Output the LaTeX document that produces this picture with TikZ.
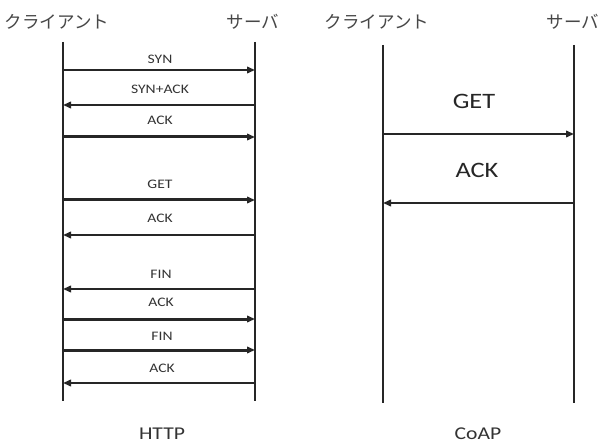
\documentclass[tikz,border=0pt]{standalone}
\usepackage{fontspec}
\setmainfont{Carlito}[FakeStretch=1.2]
\newfontfamily\jpfont{Noto Sans CJK JP}
\usetikzlibrary{arrows.meta}
\begin{document}
\begin{tikzpicture}[x=1pt,y=-1pt,
  life/.style={line width=1.9pt, draw=black!85},
  msg/.style={line width=2pt, draw=black!85, -{Triangle[length=8pt,width=6.5pt]}},
  msgb/.style={msg, line width=3pt},
  lab/.style={font=\fontsize{13}{13}\selectfont, text=black!80, inner sep=0pt},
  big/.style={font=\fontsize{22}{22}\selectfont, text=black!85, inner sep=0pt},
  head/.style={font=\jpfont\fontsize{17.5}{17.5}\selectfont, text=black!72, inner sep=0pt},
  ttl/.style={font=\fontsize{18}{18}\selectfont, text=black!80, inner sep=0pt}]
\useasboundingbox[fill=white] (0,0) rectangle (604,446);

% ---------- HTTP ----------
\node[head] (hcH) at (57,22) {クライアント};
\node[head] (hsH) at (253,22) {サーバ};
\coordinate (hcT) at (63,42); \coordinate (hcB) at (63,401);
\coordinate (hsT) at (255,42); \coordinate (hsB) at (255,401);
\draw[life] (hcT) -- (hcB);
\draw[life] (hsT) -- (hsB);

\foreach \i/\y in {1/70,2/105,3/137,4/200,5/235,6/289,7/319,8/350,9/383}{
  \coordinate (hc\i) at (63,\y);
  \coordinate (hs\i) at (255,\y);
}
\draw[msg]  (hc1) -- (hs1);
\draw[msg]  (hs2) -- (hc2);
\draw[msgb] (hc3) -- (hs3);
\draw[msgb] (hc4) -- (hs4);
\draw[msg]  (hs5) -- (hc5);
\draw[msg]  (hs6) -- (hc6);
\draw[msgb] (hc7) -- (hs7);
\draw[msgb] (hc8) -- (hs8);
\draw[msg]  (hs9) -- (hc9);

\node[lab] (l1) at (160,59)  {SYN};
\node[lab] (l2) at (160,89)  {SYN+ACK};
\node[lab] (l3) at (160,120) {ACK};
\node[lab] (l4) at (160,184) {GET};
\node[lab] (l5) at (160,218) {ACK};
\node[lab] (l6) at (161,274) {FIN};
\node[lab] (l7) at (161,302) {ACK};
\node[lab] (l8) at (162,336) {FIN};
\node[lab] (l9) at (162,368) {ACK};

\node[ttl] (http) at (162,434) {HTTP};

% ---------- CoAP ----------
\node[head] (ccH) at (377,22) {クライアント};
\node[head] (csH) at (573,22) {サーバ};
\coordinate (ccT) at (383,45); \coordinate (ccB) at (383,403);
\coordinate (csT) at (574,45); \coordinate (csB) at (574,403);
\draw[life] (ccT) -- (ccB);
\draw[life] (csT) -- (csB);

\coordinate (cc1) at (383,134); \coordinate (cs1) at (574,134);
\coordinate (cc2) at (383,203); \coordinate (cs2) at (574,203);
\draw[msg] (cc1) -- (cs1);
\draw[msg] (cs2) -- (cc2);
\node[big] (g) at (474,101) {GET};
\node[big] (a) at (477,170) {ACK};

\node[ttl] (coap) at (478,434) {CoAP};
\end{tikzpicture}
\end{document}
